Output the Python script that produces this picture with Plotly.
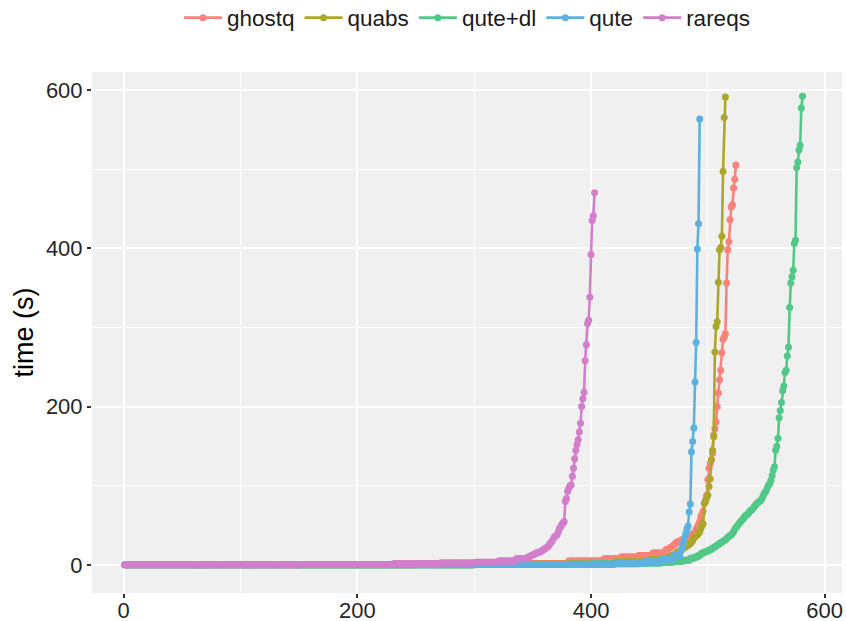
import plotly.graph_objects as go

solvers = ["ghostq", "quabs", "qute+dl", "qute", "rareqs"]
colors = ["#F9827A", "#ACA72A", "#52C888", "#5DB1DE", "#D27ECB"]

# bulk of each cactus curve: (number of instances, time in s) read as levels
ghostq_bulk = [(250, 0.3), (80, 1), (50, 2), (30, 5), (15, 8), (15, 10), (12, 12), (11, 15)]
quabs_bulk = [(300, 0.3), (80, 1), (40, 2), (30, 4), (15, 7)]
qutedl_bulk = [(300, 0.2), (100, 0.6), (40, 1.5), (20, 2.5), (10, 3.5), (8, 4.5), (6, 6), (4, 8.5), (3, 10), (2, 12)]
qute_bulk = [(300, 0.2), (80, 0.5), (40, 1), (25, 2), (15, 4), (10, 7), (6, 12)]
rareqs_bulk = [(150, 0.2), (80, 0.6), (40, 1.5), (30, 2.5), (20, 3.5), (15, 5), (10, 8)]

# tail of each cactus curve, one value per solved instance
ghostq_tail = [19, 20, 20, 21, 22, 23, 24, 25, 27, 28, 29, 30, 30, 31, 32, 32, 33, 34, 35, 35,
               36, 37, 38, 39, 40, 42, 45, 48, 51, 55, 61, 64, 68, 78, 82, 88, 108, 122, 128, 133,
               141, 164, 172, 181, 200, 217, 234, 246, 268, 285, 288, 292, 356, 398, 408, 436, 452, 455,
               476, 487, 505]
quabs_tail = [10, 11, 11, 12, 12, 13, 14, 15, 16, 17, 18, 19, 20, 21, 22, 23, 24, 25, 26, 27,
              29, 31, 34, 36, 37, 38, 40, 42, 46, 50, 52, 78, 80, 85, 88, 99, 109, 133, 145, 162,
              269, 301, 307, 357, 398, 401, 415, 497, 565, 591]
qutedl_tail = [14, 15, 15, 16, 17, 17, 18, 19, 19, 20, 21, 22, 23, 24, 25, 26, 27, 28, 29, 30,
               31, 32, 33, 35, 36, 37, 38, 40, 42, 45, 47, 49, 51, 53, 55, 56, 58, 60, 62, 63,
               64, 66, 68, 69, 70, 72, 74, 76, 78, 79, 80, 81, 83, 86, 90, 92, 94, 98, 101, 103,
               107, 113, 120, 124, 145, 150, 160, 186, 195, 205, 220, 226, 243, 246, 264, 275, 325, 356,
               364, 372, 406, 410, 502, 509, 524, 530, 577, 592]
qute_tail = [18, 22, 28, 34, 39, 45, 49, 67, 77, 143, 156, 173, 231, 281, 399, 431, 563]
rareqs_tail = [10, 10, 11, 12, 13, 13, 14, 15, 15, 16, 16, 17, 18, 19, 20, 21, 22, 23, 25, 27,
               29, 31, 34, 36, 37, 38, 42, 46, 48, 51, 53, 55, 80, 84, 93, 97, 100, 101, 112, 122,
               134, 145, 152, 158, 168, 179, 200, 210, 218, 258, 278, 305, 309, 338, 392, 435, 441, 470]

bulks = [ghostq_bulk, quabs_bulk, qutedl_bulk, qute_bulk, rareqs_bulk]
tails = [ghostq_tail, quabs_tail, qutedl_tail, qute_tail, rareqs_tail]

fig = go.Figure()
for name, col, bulk, tail in zip(solvers, colors, bulks, tails):
    times = []
    for n, v in bulk:
        times += [v] * n
    times += tail
    idx = list(range(1, len(times) + 1))
    fig.add_trace(go.Scatter(
        x=idx, y=times, name=name, mode="lines+markers",
        line=dict(color=col, width=2.6),
        marker=dict(color=col, size=7),
    ))

font = "Liberation Sans, Arial, Helvetica, sans-serif"
txt = "#262626"
fig.update_layout(
    width=846, height=621,
    margin=dict(l=92, r=4, t=72, b=28),
    paper_bgcolor="white", plot_bgcolor="#F0F0F0",
    font=dict(family=font, size=22, color=txt),
    showlegend=True,
    legend=dict(orientation="h", x=0.5, xanchor="center", y=0.971, yref="container",
                yanchor="middle", font=dict(size=22.5, color="#1A1A1A"),
                itemwidth=38, bgcolor="rgba(0,0,0,0)", traceorder="normal"),
)
fig.update_xaxes(range=[-27.1, 614.8], tickvals=[0, 200, 400, 600], showgrid=True,
                 gridcolor="white", gridwidth=2, zeroline=False, automargin=False,
                 minor=dict(dtick=100, tick0=0, showgrid=True, gridcolor="white", gridwidth=1),
                 ticks="outside", ticklen=4, tickwidth=1.6, tickcolor="#333333",
                 ticklabelstandoff=-6,
                 tickfont=dict(size=22, color=txt), showline=False)
fig.update_yaxes(range=[-35.4, 622.5], tickvals=[0, 200, 400, 600], showgrid=True,
                 gridcolor="white", gridwidth=2, zeroline=False, automargin=False,
                 minor=dict(dtick=100, tick0=0, showgrid=True, gridcolor="white", gridwidth=1),
                 ticks="outside", ticklen=4, tickwidth=1.6, tickcolor="#333333",
                 tickfont=dict(size=22, color=txt), showline=False,
                 title=dict(text="time (s)", font=dict(size=27, color="#000000"), standoff=4))

fig.write_html("out.html", config={"displayModeBar": False},
               post_script="document.body.style.margin='0';document.body.style.padding='0';")
